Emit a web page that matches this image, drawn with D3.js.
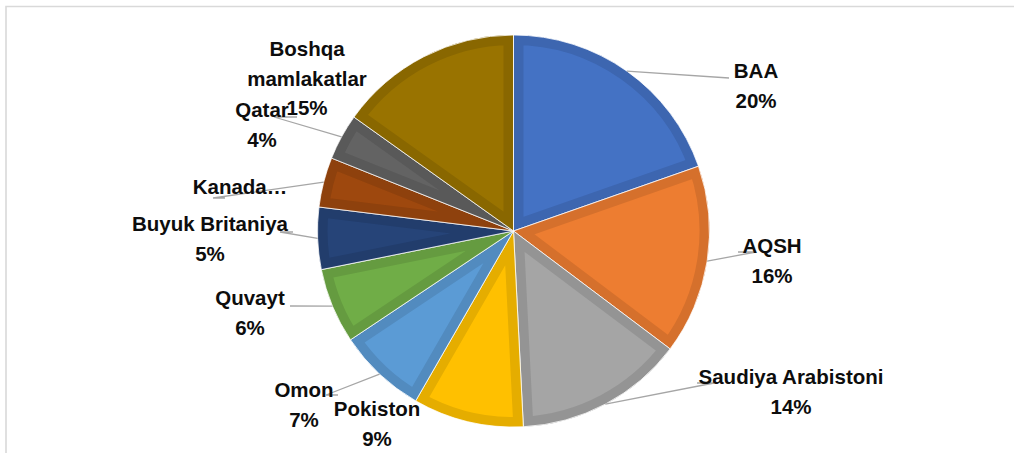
<!DOCTYPE html>
<html>
<head>
<meta charset="utf-8">
<script src="https://cdn.jsdelivr.net/npm/d3@7"></script>
<style>
  html, body { margin: 0; padding: 0; background: #fff; }
  svg { display: block; }
  .lbl { font-family: "Liberation Sans", Arial, sans-serif; font-weight: bold; font-size: 20.5px; fill: #0d0d0d; }
</style>
</head>
<body>
<svg id="chart" width="1014" height="453"></svg>
<script>
// slice names (label lines) and shares
var names = [
    ["BAA"],
    ["AQSH"],
    ["Saudiya Arabistoni"],
    ["Pokiston"],
    ["Omon"],
    ["Quvayt"],
    ["Buyuk Britaniya"],
    ["Kanada\u2026"],
    ["Qatar"],
    ["Boshqa", "mamlakatlar"]
];
var values = [19.6, 15.6, 13.9, 9.1, 7.3, 6.2, 5.1, 4.1, 3.8, 15.1];
var showPct = [true, true, true, true, true, true, true, false, true, true];

// excel office palette
var colors = ["#4472C4", "#ED7D31", "#A5A5A5", "#FFC000", "#5B9BD5",
              "#70AD47", "#264478", "#9E480E", "#636363", "#997300"];

// label placement: centre of first line, and leader end point (null = no leader)
var labelPos = [
    { x: 756, y: 78, end: [729, 78], elbow: 0 },
    { x: 772, y: 253, end: [738, 252], elbow: 18 },
    { x: 791, y: 384, end: [697, 383], elbow: 17 },
    { x: 377, y: 416, end: null },
    { x: 304, y: 397, end: [338, 395], elbow: -12 },
    { x: 250, y: 305, end: [290, 306], elbow: 0 },
    { x: 210, y: 231, end: [293, 232], elbow: -13 },
    { x: 240, y: 194, end: [225, 198], elbow: -12 },
    { x: 262, y: 117, end: [297, 117], elbow: -23 },
    { x: 307, y: 56, end: null }
];

var svg = d3.select("#chart");
var cx = 513.5, cy = 231, r = 196, lineH = 29.5;

// chart frame (only top and left edges are visible)
svg.append("path")
    .attr("d", "M6,470V6.5H1030")
    .attr("fill", "none")
    .attr("stroke", "#d9d9d9")
    .attr("stroke-width", 1.6);

var totalV = d3.sum(values);
var pie = d3.pie().sort(null).value(function(d) { return d; });
var arcs = pie(values);
var arc = d3.arc().innerRadius(0).outerRadius(r);
var edge = d3.arc().innerRadius(r).outerRadius(r);

var defs = svg.append("defs");
var g = svg.append("g").attr("transform", "translate(" + cx + "," + cy + ")");

arcs.forEach(function(a, i) {
    defs.append("clipPath")
        .attr("id", "clip" + i)
        .append("path")
        .attr("d", arc(a));
});

var slice = g.selectAll("g.slice")
    .data(arcs)
    .enter().append("g")
    .attr("class", "slice");

// fill + inner darker band (stroke clipped to the slice)
slice.append("path")
    .attr("d", arc)
    .attr("clip-path", function(d, i) { return "url(#clip" + i + ")"; })
    .attr("fill", function(d, i) { return colors[i]; })
    .attr("stroke", function(d, i) { return d3.color(colors[i]).darker(0.3); })
    .attr("stroke-width", 20)
    .attr("stroke-linejoin", "miter");

slice.append("path")
    .attr("d", arc)
    .attr("fill", "none")
    .attr("stroke", "#fff")
    .attr("stroke-width", 0.8);

// leader lines
var leaders = svg.append("g");
arcs.forEach(function(a, i) {
    var p = labelPos[i];
    if (!p.end) return;
    var mid = (a.startAngle + a.endAngle) / 2;
    var sx = cx + r * Math.sin(mid), sy = cy - r * Math.cos(mid);
    var pts = [[sx, sy], [p.end[0] + p.elbow, p.end[1]], p.end];
    leaders.append("path")
        .attr("d", d3.line()(pts))
        .attr("fill", "none")
        .attr("stroke", "#a6a6a6")
        .attr("stroke-width", 1.3);
});

// labels
var labels = svg.append("g");
arcs.forEach(function(a, i) {
    var p = labelPos[i];
    var lines = names[i].slice();
    if (showPct[i]) lines.push(Math.round(a.value / totalV * 100) + "%");
    var t = labels.append("text")
        .attr("class", "lbl")
        .attr("text-anchor", "middle")
        .attr("x", p.x)
        .attr("y", p.y);
    lines.forEach(function(s, k) {
        t.append("tspan")
            .attr("x", p.x)
            .attr("dy", k === 0 ? 0 : lineH)
            .text(s);
    });
});
</script>
</body>
</html>
